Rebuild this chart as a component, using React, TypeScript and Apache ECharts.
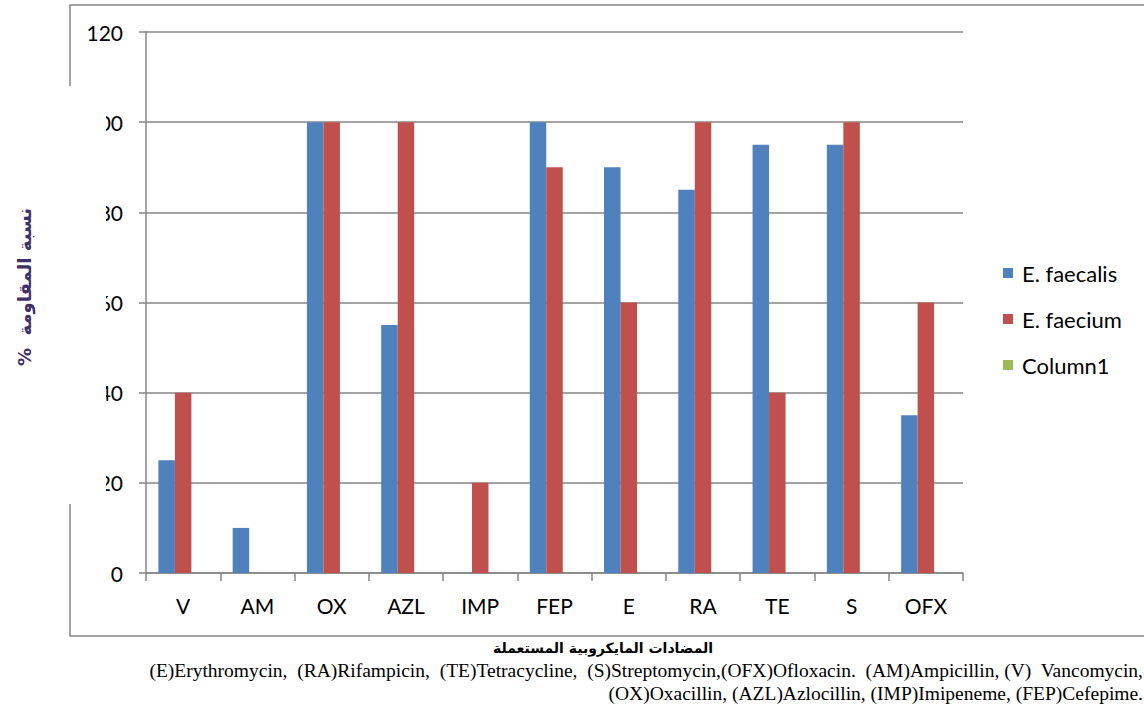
import React, { useEffect, useRef } from "react";
import * as echarts from "echarts";

const categories = ["V", "AM", "OX", "AZL", "IMP", "FEP", "E", "RA", "TE", "S", "OFX"];
const faecalis = [25, 10, 100, 55, 0, 100, 90, 85, 95, 95, 35];
const faecium = [40, 0, 100, 100, 20, 90, 60, 100, 40, 100, 60];
const column1: (number | null)[] = [null, null, null, null, null, null, null, null, null, null, null];
const seriesNames = ["E. faecalis", "E. faecium", "Column1"];
const yTitle = "%  نسبة المقاومة";
const xTitle = "المضادات المايكروبية المستعملة";
const footLine1 =
  "(E)Erythromycin,  (RA)Rifampicin,  (TE)Tetracycline,  (S)Streptomycin,(OFX)Ofloxacin.  (AM)Ampicillin, (V)  Vancomycin,";
const footLine2 = "(OX)Oxacillin, (AZL)Azlocillin, (IMP)Imipeneme, (FEP)Cefepime.";

export default function App() {
  const ref = useRef<HTMLDivElement>(null);
  useEffect(() => {
    if (!ref.current) return;
    const chart = echarts.init(ref.current, null, { renderer: "svg" });
    const gray = "#868686";
    const barCommon = { type: "bar" as const, barWidth: 16.5, barGap: "0%" };
    chart.setOption({
      animation: false,
      backgroundColor: "#ffffff",
      grid: { left: 146, right: 181, top: 32, bottom: 138, containLabel: false },
      legend: {
        orient: "vertical",
        left: 1003,
        top: 262,
        padding: 0,
        itemWidth: 10,
        itemHeight: 10,
        itemGap: 24,
        icon: "rect",
        textStyle: { fontFamily: "Lato", fontSize: 22, color: "#000", lineHeight: 22, padding: [0, 0, 0, 4] },
        data: seriesNames,
      },
      xAxis: {
        type: "category",
        data: categories,
        boundaryGap: true,
        axisLine: { lineStyle: { color: gray, width: 1.5 } },
        axisTick: { show: true, length: 8, alignWithLabel: false, lineStyle: { color: gray, width: 1.5 } },
        axisLabel: { fontFamily: "Lato", fontSize: 21, color: "#000", margin: 22 },
      },
      yAxis: {
        type: "value",
        min: 0,
        max: 120,
        interval: 20,
        axisLine: { show: true, lineStyle: { color: gray, width: 1.5 } },
        axisTick: { show: true, length: 7, lineStyle: { color: gray, width: 1.5 } },
        splitLine: { lineStyle: { color: gray, width: 1.5 } },
        axisLabel: { fontFamily: "Lato", fontSize: 21, color: "#000", margin: 23 },
      },
      series: [
        { ...barCommon, name: seriesNames[0], data: faecalis, itemStyle: { color: "#4f81bd" } },
        { ...barCommon, name: seriesNames[1], data: faecium, itemStyle: { color: "#c0504d" } },
        { ...barCommon, name: seriesNames[2], data: column1, itemStyle: { color: "#9bbb59" } },
      ],
      graphic: [
        { type: "rect", z: 100, shape: { x: 0, y: 87, width: 106, height: 417 }, style: { fill: "#ffffff" } },
        { type: "polyline", z: 101, shape: { points: [[70, 86], [70, 5], [1144, 5]] }, style: { stroke: gray, lineWidth: 1.5, fill: null } },
        { type: "polyline", z: 101, shape: { points: [[70, 504], [70, 636], [1144, 636]] }, style: { stroke: gray, lineWidth: 1.5, fill: null } },
        {
          type: "text",
          z: 102,
          x: 24,
          y: 287,
          rotation: Math.PI / 2,
          style: {
            text: yTitle,
            fontFamily: "DejaVu Sans",
            fontWeight: "bold",
            fontSize: 18,
            fill: "#3f3068",
            align: "center",
            verticalAlign: "middle",
          },
        },
        {
          type: "text",
          z: 102,
          x: 603,
          y: 648,
          style: {
            text: xTitle,
            fontFamily: "DejaVu Sans",
            fontWeight: "bold",
            fontSize: 14,
            fill: "#000",
            align: "center",
            verticalAlign: "middle",
          },
        },
        {
          type: "text",
          z: 102,
          x: 1143,
          y: 670,
          style: {
            text: footLine1,
            fontFamily: "Liberation Serif",
            fontSize: 19.5,
            fill: "#000",
            align: "right",
            verticalAlign: "middle",
          },
        },
        {
          type: "text",
          z: 102,
          x: 1143,
          y: 693,
          style: {
            text: footLine2,
            fontFamily: "Liberation Serif",
            fontSize: 19.5,
            fill: "#000",
            align: "right",
            verticalAlign: "middle",
          },
        },
      ],
    });
    return () => chart.dispose();
  }, []);
  return <div ref={ref} style={{ width: 1144, height: 711, position: "absolute", left: 0, top: 0 }} />;
}
